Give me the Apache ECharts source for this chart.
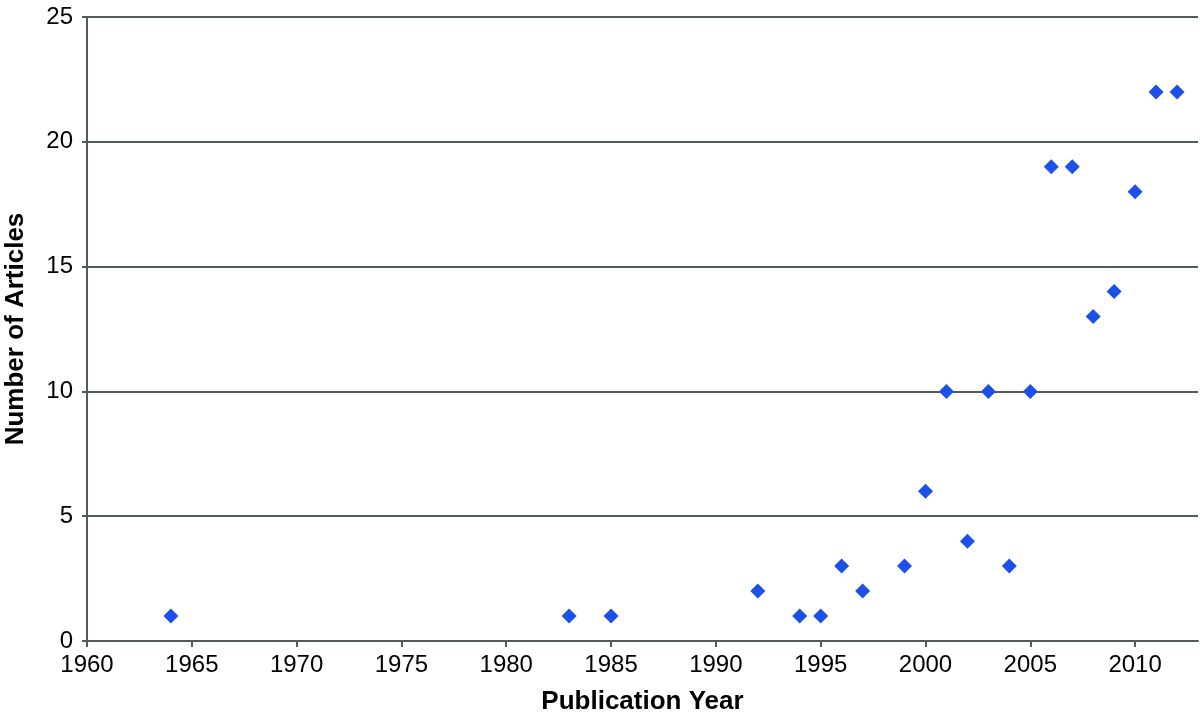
<!DOCTYPE html>
<html>
<head>
<meta charset="utf-8">
<script src="https://cdn.jsdelivr.net/npm/echarts@6/dist/echarts.min.js"></script>
<style>
  html, body { margin: 0; padding: 0; background: #fff; }
  #chart { width: 1200px; height: 718px; }
</style>
</head>
<body>
<div id="chart"></div>
<script>
// publication years and article counts
const years = [1964, 1983, 1985, 1992, 1994, 1995, 1996, 1997, 1999, 2000, 2001,
  2002, 2003, 2004, 2005, 2006, 2007, 2008, 2009, 2010, 2011, 2012];
const articles = [1, 1, 1, 2, 1, 1, 3, 2, 3, 6, 10,
  4, 10, 3, 10, 19, 19, 13, 14, 18, 22, 22];
// labelled years on the x axis (axis runs on to 2013 unlabelled)
const yearTicks = [1960, 1965, 1970, 1975, 1980, 1985, 1990, 1995, 2000, 2005, 2010];

const axisColor = '#4f5b5c';
const font = '"Liberation Sans", Arial, Helvetica, sans-serif';

const chart = echarts.init(document.getElementById('chart'));

var option = {
  animation: false,
  grid: {
    left: 87,
    right: 2,
    top: 17,
    bottom: 77,
    outerBoundsMode: 'none',
    containLabel: false
  },
  xAxis: {
    type: 'value',
    min: 1960,
    max: 2013,
    interval: 5,
    name: 'Publication Year',
    nameLocation: 'middle',
    nameGap: 48,
    nameTextStyle: { fontFamily: font, fontSize: 26, fontWeight: 'bold', color: '#000' },
    axisLine: { show: true, lineStyle: { color: axisColor, width: 2 } },
    axisTick: { show: true, length: 6, customValues: yearTicks, lineStyle: { color: axisColor, width: 2 } },
    axisLabel: {
      margin: 12,
      fontFamily: font,
      fontSize: 24,
      color: '#000',
      customValues: yearTicks,
      formatter: function (v) { return String(v); }
    },
    splitLine: { show: false }
  },
  yAxis: {
    type: 'value',
    min: 0,
    max: 25,
    interval: 5,
    name: 'Number of Articles',
    nameLocation: 'middle',
    nameGap: 58,
    nameTextStyle: { fontFamily: font, fontSize: 26, fontWeight: 'bold', color: '#000' },
    axisLine: { show: true, lineStyle: { color: axisColor, width: 2 } },
    axisTick: { show: true, length: 5, lineStyle: { color: axisColor, width: 2 } },
    axisLabel: { margin: 14, fontFamily: font, fontSize: 24, color: '#000' },
    splitLine: { show: true, lineStyle: { color: axisColor, width: 2 } }
  },
  series: [{
    type: 'scatter',
    symbol: 'diamond',
    symbolSize: 15,
    itemStyle: { color: '#1d50e8', opacity: 1 },
    data: years.map((y, i) => [y, articles[i]])
  }]
};

chart.setOption(option);
</script>
</body>
</html>
